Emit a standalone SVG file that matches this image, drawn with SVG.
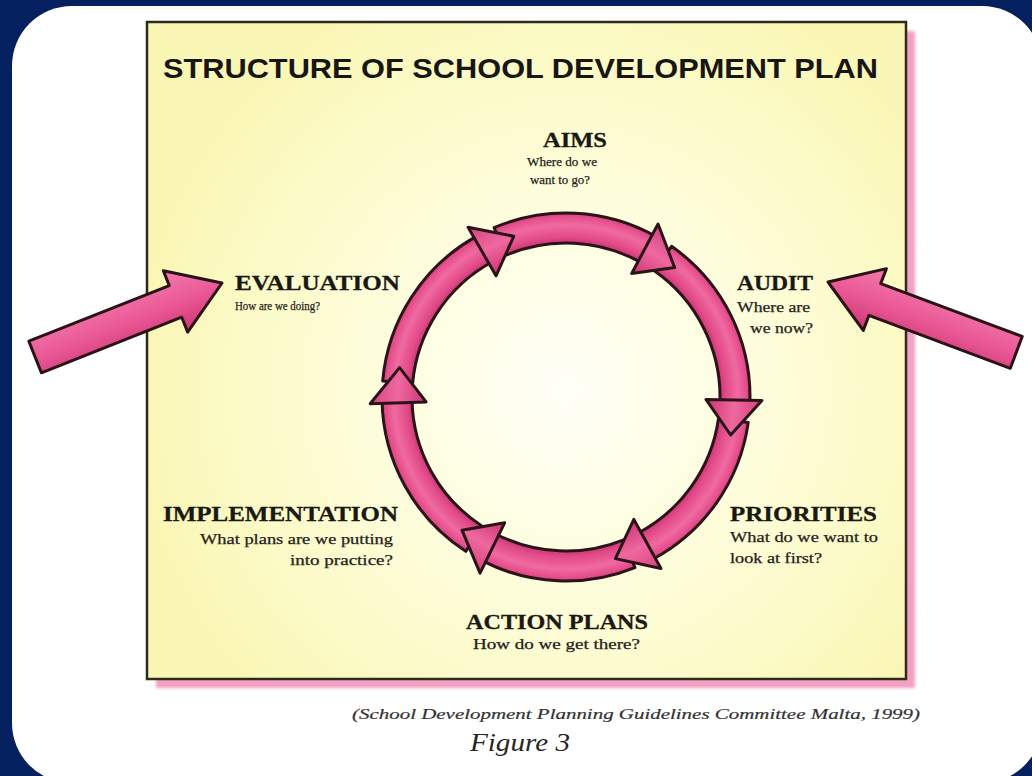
<svg xmlns="http://www.w3.org/2000/svg" width="1032" height="776" viewBox="0 0 1032 776">
  <style>
    .title { font-family: "Liberation Sans", Arial, sans-serif; font-weight: bold; font-size: 28px; fill: #181612; }
    .head { font-family: "Liberation Serif", "Times New Roman", serif; font-weight: bold; font-size: 22px; fill: #1a1812; stroke: #1a1812; stroke-width: 0.3; }
    .sub { font-family: "Liberation Serif", "Times New Roman", serif; font-size: 14px; fill: #24221c; stroke: #24221c; stroke-width: 0.25; }
    .cite { font-family: "Liberation Serif", "Times New Roman", serif; font-style: italic; font-size: 15px; fill: #333333; stroke: #333333; stroke-width: 0.2; }
    .fig { font-family: "Liberation Serif", "Times New Roman", serif; font-style: italic; font-size: 26px; fill: #262626; }
    .seg { fill: url(#ringGrad); stroke: #2a1418; stroke-width: 3; stroke-linejoin: round; }
    .tip { fill: url(#tipGrad); stroke: #2a1418; stroke-width: 3; stroke-linejoin: round; }
    .big { fill: url(#bigGrad); stroke: #2a1216; stroke-width: 3; stroke-linejoin: round; }
  </style>
  <defs>
    <radialGradient id="paper" gradientUnits="userSpaceOnUse" cx="566" cy="390" r="430">
      <stop offset="0" stop-color="#fffff8"/>
      <stop offset="0.4" stop-color="#fefee0"/>
      <stop offset="1" stop-color="#faf7b6"/>
    </radialGradient>
    <radialGradient id="ringGrad" gradientUnits="userSpaceOnUse" cx="566" cy="397" r="200">
      <stop offset="0.76" stop-color="#c4306e"/>
      <stop offset="0.8" stop-color="#e24a88"/>
      <stop offset="0.86" stop-color="#f06aa1"/>
      <stop offset="0.9" stop-color="#e6508c"/>
      <stop offset="0.93" stop-color="#cc3672"/>
    </radialGradient>
    <radialGradient id="tipGrad" gradientUnits="userSpaceOnUse" cx="0" cy="0" r="200">
      <stop offset="0.7" stop-color="#cc3672"/>
      <stop offset="0.84" stop-color="#ef68a0"/>
      <stop offset="0.99" stop-color="#d5407c"/>
    </radialGradient>
    <linearGradient id="bigGrad" x1="0" y1="0" x2="0" y2="1">
      <stop offset="0" stop-color="#f27aad"/>
      <stop offset="0.55" stop-color="#ea5795"/>
      <stop offset="1" stop-color="#c93672"/>
    </linearGradient>
    <filter id="soft" x="-5%" y="-5%" width="110%" height="110%">
      <feGaussianBlur stdDeviation="1.5"/>
    </filter>
  </defs>

  <!-- navy frame and white slide panel -->
  <rect x="0" y="0" width="1032" height="776" fill="#05205f"/>
  <rect x="12" y="6" width="1030" height="777" rx="60" ry="60" fill="#ffffff"/>

  <!-- yellow plate with pink drop shadow -->
  <g id="plate">
    <rect x="156" y="31" width="759" height="657" fill="#f3a0c4" filter="url(#soft)"/>
    <rect x="147" y="22" width="759" height="657" fill="url(#paper)" stroke="#2e2a1c" stroke-width="2.5"/>
  </g>

  <text class="title" x="163" y="78" textLength="715" lengthAdjust="spacingAndGlyphs">STRUCTURE OF SCHOOL DEVELOPMENT PLAN</text>

  <!-- cycle ring: six arc segments, each ending in an arrowhead -->
  <g id="connectors">
    <g id="ring">
      <path class="seg" d="M382.70,380.96 A184,184 0 0 1 476.79,236.07 L491.34,262.31 A154,154 0 0 0 412.59,383.58 Z"/>
      <path class="seg" d="M494.11,227.63 A184,184 0 0 1 655.21,236.07 L640.66,262.31 A154,154 0 0 0 505.83,255.24 Z"/>
      <path class="seg" d="M671.54,246.28 A184,184 0 0 1 749.89,403.42 L719.91,402.37 A154,154 0 0 0 654.33,270.85 Z"/>
      <path class="seg" d="M748.21,422.61 A184,184 0 0 1 652.38,559.46 L638.30,532.97 A154,154 0 0 0 718.50,418.43 Z"/>
      <path class="seg" d="M634.93,567.60 A184,184 0 0 1 482.47,560.95 L496.09,534.22 A154,154 0 0 0 623.69,539.79 Z"/>
      <path class="seg" d="M465.79,551.32 A184,184 0 0 1 382.03,400.21 L412.02,399.69 A154,154 0 0 0 482.13,526.16 Z"/>
      <path class="tip" transform="translate(566,397) rotate(-108)" d="M136.9,-29.1 L191.7,-40.7 L169,0 Z"/>
      <path class="tip" transform="translate(566,397) rotate(-50)" d="M136.9,-29.1 L191.7,-40.7 L169,0 Z"/>
      <path class="tip" transform="translate(566,397) rotate(13)" d="M136.9,-29.1 L191.7,-40.7 L169,0 Z"/>
      <path class="tip" transform="translate(566,397) rotate(73)" d="M136.9,-29.1 L191.7,-40.7 L169,0 Z"/>
      <path class="tip" transform="translate(566,397) rotate(128)" d="M136.9,-29.1 L191.7,-40.7 L169,0 Z"/>
      <path class="tip" transform="translate(566,397) rotate(190)" d="M136.9,-29.1 L191.7,-40.7 L169,0 Z"/>
    </g>
    <!-- entry arrows from outside the plate -->
    <path id="arrow-left" class="big" transform="translate(222,283) rotate(-21.6)" d="M-201,-17 L-50,-17 L-50,-33 L0,0 L-50,33 L-50,17 L-201,17 Z"/>
    <path id="arrow-right" class="big" transform="translate(828,282) rotate(200.5) scale(1,-1)" d="M-201,-17 L-50,-17 L-50,-33 L0,0 L-50,33 L-50,17 L-201,17 Z"/>
  </g>

  <g id="aims">
    <text class="head" x="543" y="147" textLength="64" lengthAdjust="spacingAndGlyphs">AIMS</text>
    <text class="sub" x="527" y="166" style="font-size:13px" textLength="70" lengthAdjust="spacingAndGlyphs">Where do we</text>
    <text class="sub" x="530" y="184" style="font-size:13px" textLength="60" lengthAdjust="spacingAndGlyphs">want to go?</text>
  </g>
  <g id="audit">
    <text class="head" x="737" y="290" textLength="76" lengthAdjust="spacingAndGlyphs">AUDIT</text>
    <text class="sub" x="737" y="312" textLength="73" lengthAdjust="spacingAndGlyphs">Where are</text>
    <text class="sub" x="750" y="333" textLength="63" lengthAdjust="spacingAndGlyphs">we now?</text>
  </g>
  <g id="priorities">
    <text class="head" x="730" y="521" textLength="147" lengthAdjust="spacingAndGlyphs">PRIORITIES</text>
    <text class="sub" x="730" y="542" textLength="148" lengthAdjust="spacingAndGlyphs">What do we want to</text>
    <text class="sub" x="730" y="563" textLength="92" lengthAdjust="spacingAndGlyphs">look at first?</text>
  </g>
  <g id="action-plans">
    <text class="head" x="466" y="629" textLength="182" lengthAdjust="spacingAndGlyphs">ACTION PLANS</text>
    <text class="sub" x="473" y="649" textLength="167" lengthAdjust="spacingAndGlyphs">How do we get there?</text>
  </g>
  <g id="implementation">
    <text class="head" x="163" y="521" textLength="235" lengthAdjust="spacingAndGlyphs">IMPLEMENTATION</text>
    <text class="sub" x="200" y="544" textLength="193" lengthAdjust="spacingAndGlyphs">What plans are we putting</text>
    <text class="sub" x="290" y="565" textLength="103" lengthAdjust="spacingAndGlyphs">into practice?</text>
  </g>
  <g id="evaluation">
    <text class="head" x="235" y="290" textLength="165" lengthAdjust="spacingAndGlyphs">EVALUATION</text>
    <text class="sub" x="235" y="310" style="font-size:13px" textLength="85" lengthAdjust="spacingAndGlyphs">How are we doing?</text>
  </g>

  <text class="cite" x="352" y="719" textLength="568" lengthAdjust="spacingAndGlyphs">(School Development Planning Guidelines Committee Malta, 1999)</text>
  <text class="fig" x="470" y="751" textLength="100" lengthAdjust="spacingAndGlyphs">Figure 3</text>
</svg>
